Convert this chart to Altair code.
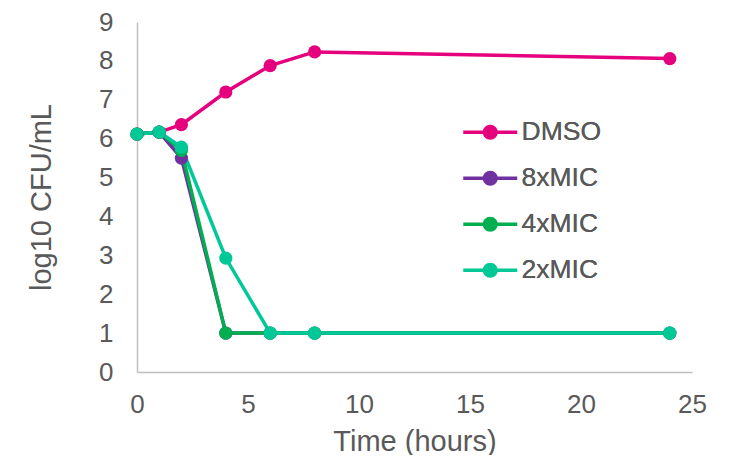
import altair as alt
import pandas as pd

hours = [0, 1, 2, 4, 6, 8, 24]
series = ["DMSO", "8xMIC", "4xMIC", "2xMIC"]
dmso = [6.12, 6.17, 6.36, 7.2, 7.88, 8.23, 8.06]
mic8 = [6.12, 6.17, 5.5, 1.0, 1.0, 1.0, 1.0]
mic4 = [6.12, 6.17, 5.7, 1.0, 1.0, 1.0, 1.0]
mic2 = [6.12, 6.17, 5.78, 2.93, 1.0, 1.0, 1.0]
colors = ["#E5007E", "#7030A0", "#00B050", "#00C896"]

rows = []
for i, (name, vals) in enumerate(zip(series, [dmso, mic8, mic4, mic2])):
    for h, v in zip(hours, vals):
        rows.append({"hour": h, "cfu": v, "series": name, "series_pt": name, "order": i})
df = pd.DataFrame(rows)

font = "Liberation Sans"
gray = "#595959"
line_sym = "M-3.6,0H3.6"
dot_sym = "M-1,0A1,1,0,1,1,1,0A1,1,0,1,1,-1,0Z"

x = alt.X("hour:Q", title="Time (hours)",
          scale=alt.Scale(domain=[0, 25], nice=False),
          axis=alt.Axis(values=[0, 5, 10, 15, 20, 25], grid=False, ticks=False,
                        labelFlush=False,
                        domainColor="#BFBFBF", domainWidth=1.5,
                        labelFont=font, labelFontSize=26, labelColor=gray,
                        labelPadding=19, titleFont=font, titleFontSize=29,
                        titleFontWeight="normal", titleColor=gray, titlePadding=10))
y = alt.Y("cfu:Q", title="log10 CFU/mL",
          scale=alt.Scale(domain=[0, 9], nice=False),
          axis=alt.Axis(values=list(range(10)), grid=False, ticks=False,
                        labelFlush=False,
                        domainColor="#BFBFBF", domainWidth=1.5,
                        labelFont=font, labelFontSize=26, labelColor=gray,
                        labelPadding=24, titleFont=font, titleFontSize=29,
                        titleFontWeight="normal", titleColor=gray, titlePadding=42))

legend_common = dict(title=None, orient="none", legendX=340, legendY=97,
                     symbolSize=225, labelFont=font, labelFontSize=26.5,
                     labelColor=gray, labelOffset=18, rowPadding=19)

lines = alt.Chart(df).mark_line(strokeWidth=3.5).encode(
    x=x, y=y,
    color=alt.Color("series:N", sort=series,
                    scale=alt.Scale(domain=series, range=colors),
                    legend=alt.Legend(symbolType=line_sym, symbolStrokeWidth=3.5,
                                      **legend_common)),
    order=alt.Order("hour:Q"),
)

points = alt.Chart(df).mark_point(filled=True, size=175, opacity=1, strokeWidth=0).encode(
    x=x, y=y,
    fill=alt.Fill("series_pt:N", sort=series,
                  scale=alt.Scale(domain=series, range=colors),
                  legend=alt.Legend(symbolType=dot_sym, symbolStrokeWidth=0,
                                    symbolOpacity=1, **legend_common)),
    order=alt.Order("order:Q"),
)

chart = alt.layer(lines, points).resolve_scale(fill="independent", color="independent").properties(
    width=555, height=350,
    autosize=alt.AutoSizeParams(type="none"),
    padding={"left": 129, "top": 14, "right": 20, "bottom": 83},
).configure_view(stroke=None)

chart.save("out.html", embed_options={"renderer": "svg", "actions": False})
